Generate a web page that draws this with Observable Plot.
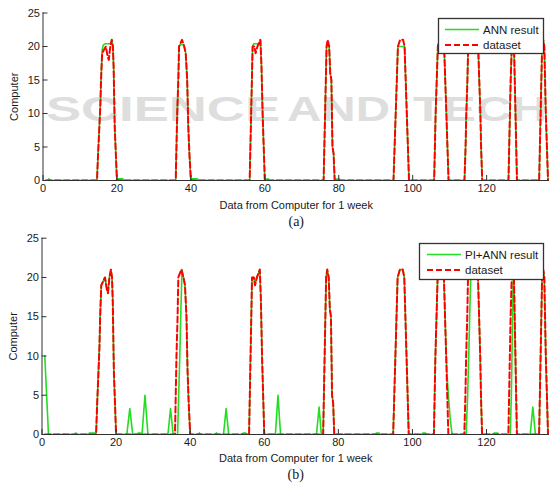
<!DOCTYPE html>
<html><head><meta charset="utf-8">
<script src="https://cdn.jsdelivr.net/npm/d3@7"></script>
<script src="https://cdn.jsdelivr.net/npm/@observablehq/plot@0.6"></script>
<style>
html,body{margin:0;padding:0;background:#fff;}
#wrap{position:relative;width:549px;height:486px;overflow:hidden;}
.wm{position:absolute;top:91px;font:bold 35px/35px "Liberation Sans",Arial,sans-serif;color:#dedede;white-space:nowrap;transform-origin:0 0;}
#top,#bot{position:absolute;left:0;}
#top{top:0;} #bot{top:225px;}
#leg{position:absolute;left:0;top:0;}
</style></head><body>
<div id="wrap"><div id="wmbox"></div><div id="top"></div><div id="bot"></div><div id="leg"></div></div>
<script>
const xTicks = [0, 20, 40, 60, 80, 100, 120];
const yTicks = [0, 5, 10, 15, 20, 25];
const xLabel = "Data from Computer for 1 week";
const yLabel = "Computer";
const captions = ["(a)", "(b)"];
const legendTop = ["ANN result", "dataset"];
const legendBot = ["PI+ANN result", "dataset"];
const watermarkWords = ["SCIENCE", "AND", "TECH"];

// dataset (red dashed)
const dataX = [0.75,14.6,14.9,15.2,15.5,15.7,16.0,16.5,17.0,17.5,17.8,18.2,18.6,18.9,19.1,19.4,19.7,20.0,
  35.9,36.1,36.3,36.6,36.8,37.6,38.2,38.6,39.0,39.3,39.6,40.0,
  55.9,56.1,56.3,56.5,56.7,57.2,57.5,58.0,58.8,59.1,59.4,59.7,60.0,
  75.9,76.1,76.3,76.5,76.7,77.0,77.4,77.7,78.0,78.3,78.6,78.9,
  94.8,95.1,95.4,95.7,96.0,96.6,97.4,97.8,98.1,98.4,98.7,99.0,
  105.8,106.0,106.2,106.5,106.8,107.2,107.6,108.0,108.5,108.8,109.1,109.4,109.7,
  114.0,114.3,114.5,114.8,115.0,115.5,117.2,117.7,118.0,118.3,118.5,118.8,
  125.9,126.1,126.3,126.5,126.8,127.1,127.4,127.6,127.8,128.0,128.2,
  134.2,134.4,134.6,134.8,135.0,135.3,135.6,135.8,136.0,136.3,136.6,137.5];
const dataY = [0,0,4,7.5,11,15,19,19.5,20,18.5,18,20,21,20,17,8,4,0,
  0,5,10,15,20,21,20,19,15,8,4,0,
  0,5,10,15,20,20,19,20,21,17,10,5,0,
  0,5,10,15,20,21,20,16,15,5,4,0,
  0,5,10,15,20,21,21,20,15,10,5,0,
  0,5,10,15,20,21,20,21,20,15,10,5,0,
  0,5,10,15,20,21,21,20,15,10,5,0,
  0,5,10,15,20,21,20,15,10,5,0,
  0,5,10,15,20,21,20,15,10,5,0,0];

// ANN result (green, panel a)
const annX = [0.75,1.3,1.6,1.9,14.6,14.9,15.2,15.5,15.7,16.0,16.3,16.8,18.4,18.6,18.9,19.1,19.4,19.7,20.0,20.3,21.6,21.9,
  35.9,36.1,36.3,36.6,36.8,37.2,38.0,38.2,38.6,39.0,39.3,39.6,40.0,40.3,41.8,42.1,
  55.9,56.1,56.3,56.5,56.7,57.0,58.5,58.8,59.1,59.4,59.7,60.0,60.3,61.0,61.2,
  75.9,76.1,76.3,76.5,76.7,77.0,77.4,77.7,78.0,78.3,78.6,78.9,79.2,80.2,80.4,
  94.8,95.1,95.4,95.7,96.0,97.6,97.8,98.1,98.4,98.7,99.0,
  105.8,106.0,106.2,106.5,106.8,107.2,107.6,108.0,108.5,108.8,109.1,109.4,109.7,
  114.0,114.3,114.5,114.8,115.0,115.5,117.2,117.7,118.0,118.3,118.5,118.8,
  125.9,126.1,126.3,126.5,126.8,127.1,127.4,127.6,127.8,128.0,128.2,
  134.2,134.4,134.6,134.8,135.0,135.3,135.6,135.8,136.0,136.3,136.6,137.5];
const annY = [0,0,0.25,0,0,4,7.5,11,15,19.5,20.2,20.4,20.4,21,20,17,8,4,0,0.25,0.25,0,
  0,5,10,15,20,20.3,20.3,20,19,15,8,4,0,0.25,0.25,0,
  0,5,10,15,20,20.4,20.4,21,17,10,5,0,0.2,0.2,0,
  0,5,10,15,20,20.4,20,16,15,5,4,0,0.2,0.2,0,
  0,5,10,15,20,20,20,15,10,5,0,
  0,5,10,15,20,21,20,21,20,15,10,5,0,
  0,5,10,15,20,21,21,20,15,10,5,0,
  0,5,10,15,20,21,20,15,10,5,0,
  0,5,10,15,20,21,20,15,10,5,0,0];

// PI+ANN result (green, panel b)
const piX = [0.75,1.0,1.25,1.5,1.75,8.8,9.1,9.4,12.5,12.8,14.3,14.6,14.9,15.2,15.5,15.7,16.0,16.5,17.0,17.5,17.8,18.2,18.6,18.9,19.1,19.4,19.7,20.0,
  22.9,23.7,24.5,25.8,26.0,26.6,26.8,27.0,27.8,28.6,
  34.0,34.7,35.4,36.6,36.9,37.2,37.5,37.8,38.2,38.6,39.0,39.3,39.6,40.0,
  42.2,42.5,42.8,46.8,47.1,47.4,49.0,49.7,50.4,54.0,54.3,55.0,55.2,
  55.9,56.1,56.3,56.5,56.7,57.2,57.5,58.0,58.8,59.1,59.4,59.7,60.0,
  63.0,63.7,64.4,74.1,74.8,75.4,
  75.9,76.1,76.3,76.5,76.7,77.0,77.4,77.7,78.0,78.3,78.6,78.9,
  90.0,90.3,91.0,91.2,
  94.8,95.1,95.4,95.7,96.0,96.6,97.4,97.8,98.1,98.4,98.7,99.0,
  102.5,102.8,103.5,103.7,
  105.8,106.0,106.2,106.5,106.8,107.2,107.6,108.0,108.5,108.8,109.3,109.7,110.2,110.7,
  114.5,114.9,115.2,115.5,115.8,117.2,117.7,118.0,118.3,118.5,118.8,
  121.8,122.1,123.0,123.2,
  126.4,126.7,127.0,127.2,127.4,127.6,127.8,128.0,128.2,
  131.8,132.5,133.2,
  134.2,134.4,134.6,134.8,135.0,135.3,135.6,135.8,136.0,136.3,136.6,137.5];
const piY = [10,7.5,5,2.5,0,0,0.2,0,0,0.2,0.2,0,4,7.5,11,15,19,19.5,20,18.5,18,20,21,20,17,8,4,0,
  0,3.3,0,0,0.2,0.2,0,0,5,0,
  0,3.3,0,0,5,10,16,21,20,19,15,8,4,0,
  0,0.2,0,0,0.2,0,0,3.3,0,0,0.2,0.2,0,
  0,5,10,15,20,20,19,20,21,17,10,5,0,
  0,5,0,0,3.5,0,
  0,5,10,15,20,21,20,16,15,5,4,0,
  0,0.2,0.2,0,
  0,5,10,15,20,21,21,20,15,10,5,0,
  0,0.2,0.2,0,
  0,5,10,15,20,21,20,21,20,15,8,5,2,0,
  0,5,10,16,21,21,20,15,10,5,0,
  0,0.2,0.2,0,
  0,5,14,20,20,15,10,5,0,
  0,3.5,0,
  0,5,10,15,20,21,20,15,10,5,0,0];

const SANS = '"Liberation Sans", Arial, sans-serif';
const SERIF = '"Liberation Serif", "Times New Roman", serif';
const AX = "#303030";

// faint publisher watermark behind the charts
const wmBox = document.getElementById("wmbox");
const wmSpans = [[46, 234], [287, 103], [413, 134]];
watermarkWords.forEach((w, i) => {
  const s = document.createElement("div");
  s.className = "wm";
  s.textContent = w;
  s.style.left = wmSpans[i][0] + "px";
  wmBox.append(s);
  const natural = s.getBoundingClientRect().width;
  s.style.transform = `scaleX(${wmSpans[i][1] / natural})`;
});

function panel({gx, gy, height, mt, mb, ml, dyLab, dyCap, dxY, cap}) {
  const pxX = (549 - ml) / 137;
  const pxY = (height - mt - mb) / 25;
  const tLenY = 5 / pxY, tLenX = 5 / pxX;
  return Plot.plot({
    width: 549, height, marginLeft: ml, marginRight: 0, marginTop: mt, marginBottom: mb,
    style: {background: "transparent", fontFamily: SANS, fontSize: "11px", color: "#1a1a1a", overflow: "visible"},
    x: {domain: [0, 137]},
    y: {domain: [0, 25]},
    marks: [
      Plot.line(gx, {x: gx, y: gy, stroke: "#22dd22", strokeWidth: 1.6, clip: true}),
      Plot.line(dataX, {x: dataX, y: dataY, stroke: "#ff0000", strokeWidth: 2, strokeDasharray: "6,3", clip: true}),
      Plot.ruleY([0], {stroke: AX, strokeWidth: 1}),
      Plot.ruleX([0], {stroke: AX, strokeWidth: 1}),
      Plot.ruleX(xTicks, {x: d => d, y1: 0, y2: tLenY, stroke: AX}),
      Plot.ruleY(yTicks, {y: d => d, x1: 0, x2: tLenX, stroke: AX}),
      Plot.axisX(xTicks, {tickSize: 0, tickPadding: 4, fontSize: 11, label: null}),
      Plot.axisY(yTicks, {tickSize: 0, tickPadding: 3, fontSize: 11, label: null}),
      Plot.text([xLabel], {text: d => d, frameAnchor: "bottom", lineAnchor: "middle", textAnchor: "middle", dy: dyLab, fontSize: 11}),
      Plot.text([cap], {text: d => d, frameAnchor: "bottom", lineAnchor: "middle", textAnchor: "middle", dy: dyCap, fontSize: 14, fontFamily: SERIF}),
      Plot.text([yLabel], {text: d => d, frameAnchor: "left", lineAnchor: "middle", textAnchor: "middle", dx: dxY, rotate: -90, fontSize: 11})
    ]
  });
}

document.getElementById("top").append(panel({gx: annX, gy: annY, height: 215, mt: 12.5, mb: 35, ml: 42.5, dyLab: 25, dyCap: 41.5, dxY: -28.5, cap: captions[0]}));
document.getElementById("bot").append(panel({gx: piX, gy: piY, height: 261, mt: 12.7, mb: 52, ml: 41.5, dyLab: 24, dyCap: 40, dxY: -29, cap: captions[1]}));

function legendSvg(x, y, w, h, lx1, lx2, tx, labels) {
  return `<rect x="${x}" y="${y}" width="${w}" height="${h}" fill="#fff" stroke="#333" stroke-width="1.3"/>
  <line x1="${lx1}" x2="${lx2}" y1="${y+11}" y2="${y+11}" stroke="#22dd22" stroke-width="1.6"/>
  <text x="${tx}" y="${y+15}" font-family='${SANS}' font-size="11.5" fill="#1a1a1a">${labels[0]}</text>
  <line x1="${lx1}" x2="${lx2}" y1="${y+26.5}" y2="${y+26.5}" stroke="#ff0000" stroke-width="2" stroke-dasharray="6,3"/>
  <text x="${tx}" y="${y+30.5}" font-family='${SANS}' font-size="11.5" fill="#1a1a1a">${labels[1]}</text>`;
}
document.getElementById("leg").innerHTML = `<svg width="549" height="486" xmlns="http://www.w3.org/2000/svg">
${legendSvg(438.5, 18.5, 105, 35, 445, 479, 483, legendTop)}
${legendSvg(419.5, 243.5, 124, 36, 427, 461, 465, legendBot)}
</svg>`;
</script>
</body></html>
